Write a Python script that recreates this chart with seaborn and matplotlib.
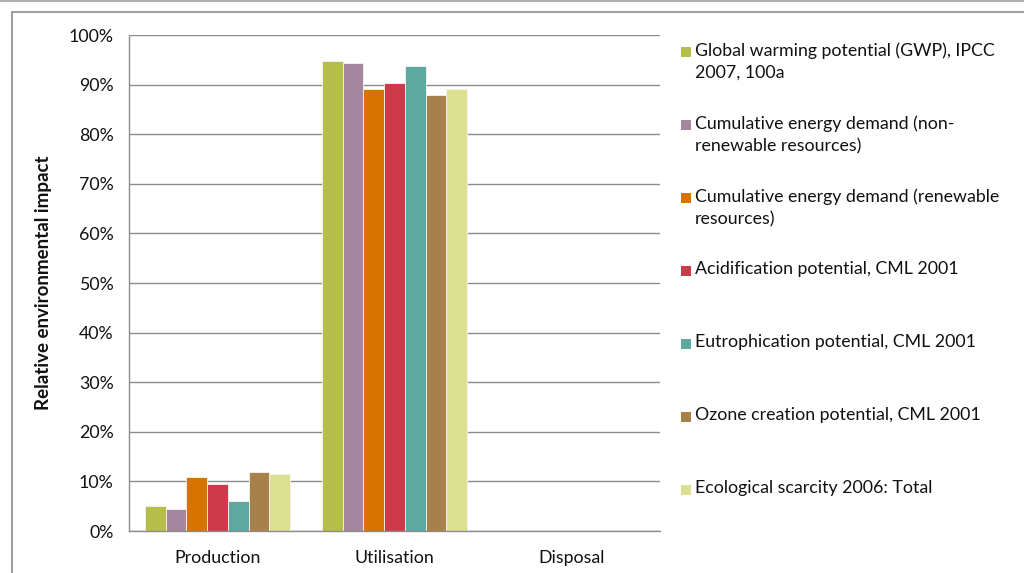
import matplotlib
matplotlib.use("Agg")
import matplotlib.pyplot as plt
import seaborn as sns
import pandas as pd
from matplotlib.patches import Rectangle
from matplotlib.lines import Line2D
from matplotlib.ticker import FuncFormatter, MultipleLocator

phases = ["Production", "Utilisation", "Disposal"]
indicators = [
    "Global warming potential (GWP), IPCC\n2007, 100a",
    "Cumulative energy demand (non-\nrenewable resources)",
    "Cumulative energy demand (renewable\nresources)",
    "Acidification potential, CML 2001",
    "Eutrophication potential, CML 2001",
    "Ozone creation potential, CML 2001",
    "Ecological scarcity 2006: Total",
]
production = [5.1, 4.5, 10.9, 9.4, 6.0, 11.9, 11.5]
utilisation = [94.7, 94.4, 89.1, 90.4, 93.8, 87.9, 89.2]
disposal = [0, 0, 0, 0, 0, 0, 0]
colors = ["#B5BE48", "#A4879F", "#D97300", "#D0394C", "#5BA99F", "#A8804A", "#DAE08F"]
yticks = [0, 10, 20, 30, 40, 50, 60, 70, 80, 90, 100]

rows = []
for ph, vals in zip(phases, [production, utilisation, disposal]):
    for ind, v in zip(indicators, vals):
        rows.append({"phase": ph, "indicator": ind, "value": v})
df = pd.DataFrame(rows)

sns.set_style("white")
plt.rcParams["font.family"] = ["Lato", "DejaVu Sans"]

W, H = 1024, 573
fig = plt.figure(figsize=(W / 100, H / 100), dpi=100)
ax = fig.add_axes([129 / W, 1 - 531 / H, (660 - 129) / W, (531 - 35) / H])

sns.barplot(data=df, x="phase", y="value", hue="indicator", order=phases,
            hue_order=indicators, palette=colors, saturation=1, width=0.82, gap=0,
            edgecolor="#f4f4f4", linewidth=0.6, ax=ax, legend=False)

ax.set_ylim(0, 100)
ax.set_xlim(-0.5, 2.5)
ax.set_yticks(yticks)
ax.yaxis.set_major_formatter(FuncFormatter(lambda v, p: f"{int(v)}%"))
ax.yaxis.grid(True, color="#8c8c8c", linewidth=1)
ax.xaxis.grid(False)
ax.set_axisbelow(True)
for s in ["top", "right"]:
    ax.spines[s].set_visible(False)
for s in ["left", "bottom"]:
    ax.spines[s].set_color("#8c8c8c")
    ax.spines[s].set_linewidth(1)
ax.xaxis.set_minor_locator(MultipleLocator(1, offset=0.5))
ax.tick_params(axis="x", which="major", length=0, labelsize=12.8, pad=14, labelcolor="#111111")
ax.tick_params(axis="x", which="minor", length=6, color="#8c8c8c", width=1, direction="out")
ax.tick_params(axis="y", which="major", length=6, color="#8c8c8c", width=1, direction="out",
               labelsize=12.8, pad=5, labelcolor="#111111")
ax.set_xlabel("")
ax.set_ylabel("Relative environmental impact", fontsize=13.5, fontweight="bold",
              color="#111111", labelpad=12)

# chart frame
fig.add_artist(Line2D([0, 1], [1 - 1 / H, 1 - 1 / H], color="#b0b0b0", lw=1.5,
                      transform=fig.transFigure))
fig.add_artist(Line2D([12 / W, 1.01], [1 - 12 / H, 1 - 12 / H], color="#a0a0a0", lw=1.5,
                      transform=fig.transFigure))
fig.add_artist(Line2D([12 / W, 12 / W], [-0.01, 1 - 12 / H], color="#a0a0a0", lw=1.5,
                      transform=fig.transFigure))

# legend drawn manually
y0 = 52
dy = 73
for i, (lab, c) in enumerate(zip(indicators, colors)):
    yc = y0 + dy * i
    fig.add_artist(Rectangle((681 / W, 1 - (yc + 5) / H), 10 / W, 10 / H,
                             facecolor=c, edgecolor="none", transform=fig.transFigure))
    fig.text(695 / W, 1 - (yc - 10) / H, lab, fontsize=12.8, color="#111111",
             va="top", ha="left", linespacing=1.5)

fig.savefig("out.png", dpi=100, facecolor="white")
